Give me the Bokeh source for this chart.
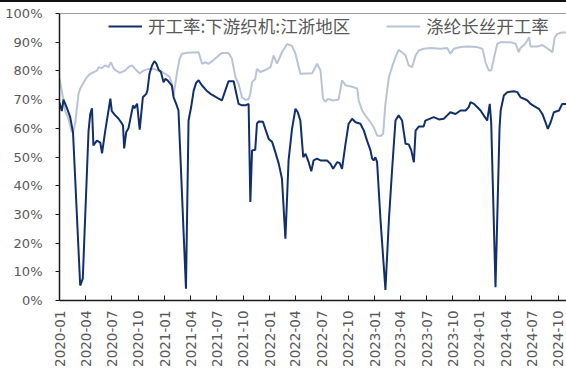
import pandas as pd
from bokeh.plotting import figure
from bokeh.layouts import column
from bokeh.models import (Range1d, Legend, LegendItem, Span, MonthsTicker, Div,
                          DatetimeTickFormatter, FixedTicker, PrintfTickFormatter)
from bokeh.embed import file_html
from bokeh.resources import INLINE

# ---- data ----
weaving_name = "开工率:下游织机:江浙地区"
weaving_dates = [
    "2020-01-01", "2020-01-09", "2020-01-15", "2020-01-27", "2020-02-07", "2020-02-17",
    "2020-03-13", "2020-03-22", "2020-04-11", "2020-04-17", "2020-04-23", "2020-04-28",
    "2020-05-10", "2020-05-22", "2020-05-28", "2020-06-08", "2020-06-26", "2020-07-01",
    "2020-07-13", "2020-07-24", "2020-08-05", "2020-08-09", "2020-08-13", "2020-08-20",
    "2020-08-28", "2020-09-13", "2020-09-18", "2020-09-27", "2020-10-06", "2020-10-17",
    "2020-10-29", "2020-11-02", "2020-11-09", "2020-11-18", "2020-11-26", "2020-12-03",
    "2020-12-11", "2020-12-19", "2020-12-28", "2021-01-03", "2021-01-11", "2021-01-26",
    "2021-02-01", "2021-02-10", "2021-02-18", "2021-03-16", "2021-03-25", "2021-04-03",
    "2021-04-12", "2021-04-21", "2021-04-29", "2021-05-11", "2021-05-26", "2021-06-09",
    "2021-06-20", "2021-07-08", "2021-07-19", "2021-07-31", "2021-08-11", "2021-08-29",
    "2021-09-15", "2021-09-27", "2021-10-09", "2021-10-20", "2021-10-26", "2021-11-01",
    "2021-11-12", "2021-11-18", "2021-11-24", "2021-12-09", "2021-12-17", "2021-12-29",
    "2022-01-10", "2022-01-21", "2022-02-02", "2022-02-13", "2022-02-25", "2022-03-08",
    "2022-03-20", "2022-04-01", "2022-04-09", "2022-04-18", "2022-04-28", "2022-05-06",
    "2022-05-17", "2022-05-26", "2022-06-03", "2022-06-15", "2022-06-27", "2022-07-20",
    "2022-08-01", "2022-08-10", "2022-08-24", "2022-09-02", "2022-09-10", "2022-09-22",
    "2022-10-03", "2022-10-15", "2022-10-27", "2022-11-13", "2022-11-25", "2022-12-06",
    "2022-12-18", "2022-12-24", "2022-12-29", "2023-01-04", "2023-01-10", "2023-01-22",
    "2023-02-08", "2023-02-20", "2023-03-03", "2023-03-15", "2023-03-26", "2023-04-07",
    "2023-04-19", "2023-04-30", "2023-05-09", "2023-05-18", "2023-05-24", "2023-06-04",
    "2023-06-21", "2023-06-27", "2023-07-26", "2023-08-13", "2023-08-30", "2023-09-11",
    "2023-09-22", "2023-10-10", "2023-10-27", "2023-11-14", "2023-11-25", "2023-12-01",
    "2023-12-13", "2023-12-24", "2024-01-05", "2024-01-16", "2024-01-28", "2024-02-06",
    "2024-02-11", "2024-02-26", "2024-03-11", "2024-03-15", "2024-03-26", "2024-04-07",
    "2024-04-30", "2024-05-12", "2024-05-23", "2024-06-04", "2024-06-16", "2024-06-27",
    "2024-07-08", "2024-07-26", "2024-08-07", "2024-08-18", "2024-08-26", "2024-09-05",
    "2024-09-16", "2024-10-04", "2024-10-15", "2024-10-30",
]
weaving_values = [
    69.0, 66.0, 70.0, 67.0, 64.0, 58.6,
    5.2, 7.6, 59.0, 65.0, 67.0, 54.0,
    55.7, 55.0, 51.3, 59.0, 70.3, 66.0,
    64.5, 63.4, 61.7, 61.0, 53.0, 58.6,
    60.0, 68.0, 67.0, 68.6, 59.5, 70.8,
    72.0, 73.2, 79.0, 81.9, 83.4, 82.5,
    80.4, 79.6, 76.0, 77.2, 76.7, 74.9,
    70.8, 68.5, 66.2, 4.1, 62.7, 67.4,
    73.2, 76.0, 76.7, 74.9, 73.2, 72.0,
    71.4, 70.3, 69.7, 73.2, 76.4, 76.4,
    68.5, 68.0, 68.0, 68.5, 34.3, 52.3,
    52.5, 61.6, 62.4, 62.3, 59.8, 56.3,
    55.2, 51.7, 47.6, 42.4, 21.5, 48.8,
    59.8, 66.8, 65.6, 62.7, 49.9, 51.1,
    48.2, 45.0, 48.8, 49.4, 48.8, 48.8,
    47.6, 45.9, 48.2, 47.9, 45.9, 54.5,
    61.6, 63.3, 62.1, 61.6, 59.2, 55.7,
    52.3, 49.4, 48.8, 49.9, 48.2, 27.9,
    3.7, 27.9, 45.3, 62.7, 64.5, 62.7,
    54.6, 54.4, 52.3, 48.2, 59.2, 60.6,
    60.6, 62.7, 63.9, 63.1, 63.3, 64.5,
    65.6, 65.0, 66.2, 66.2, 67.4, 69.1,
    68.5, 67.4, 66.2, 64.5, 62.7, 68.5,
    62.0, 4.6, 60.0, 66.2, 71.4, 72.6,
    72.9, 72.6, 70.8, 70.3, 69.7, 68.5,
    67.8, 66.8, 65.0, 62.1, 59.8, 62.1,
    65.6, 66.2, 68.5, 68.5,
]

filament_name = "涤纶长丝开工率"
filament_dates = [
    "2020-01-01", "2020-01-09", "2020-01-21", "2020-02-01", "2020-02-13", "2020-02-19",
    "2020-02-25", "2020-03-07", "2020-03-13", "2020-03-25", "2020-04-05", "2020-04-17",
    "2020-05-10", "2020-05-16", "2020-05-27", "2020-06-08", "2020-06-19", "2020-06-28",
    "2020-07-08", "2020-07-18", "2020-07-29", "2020-08-16", "2020-08-28", "2020-09-09",
    "2020-09-20", "2020-10-06", "2020-10-19", "2020-11-06", "2020-11-23", "2020-12-23",
    "2021-01-03", "2021-01-18", "2021-01-26", "2021-02-01", "2021-02-13", "2021-02-22",
    "2021-03-02", "2021-03-20", "2021-04-29", "2021-05-11", "2021-05-22", "2021-06-03",
    "2021-06-15", "2021-07-08", "2021-07-19", "2021-08-11", "2021-08-23", "2021-09-04",
    "2021-09-15", "2021-09-27", "2021-10-09", "2021-10-20", "2021-10-26", "2021-11-01",
    "2021-11-12", "2021-11-18", "2021-11-30", "2021-12-17", "2022-01-04", "2022-01-15",
    "2022-01-27", "2022-02-13", "2022-03-03", "2022-03-20", "2022-04-01", "2022-04-18",
    "2022-05-29", "2022-06-15", "2022-06-27", "2022-07-06", "2022-07-14", "2022-07-22",
    "2022-08-12", "2022-08-29", "2022-09-10", "2022-09-22", "2022-10-21", "2022-11-02",
    "2022-11-07", "2022-11-19", "2022-11-30", "2022-12-18", "2022-12-29", "2023-01-10",
    "2023-01-22", "2023-01-31", "2023-02-08", "2023-02-20", "2023-03-03", "2023-03-15",
    "2023-03-26", "2023-04-07", "2023-04-19", "2023-04-30", "2023-05-12", "2023-05-24",
    "2023-06-04", "2023-06-21", "2023-07-15", "2023-08-19", "2023-09-11", "2023-09-22",
    "2023-10-04", "2023-10-27", "2023-11-20", "2023-12-24", "2024-01-11", "2024-01-16",
    "2024-01-22", "2024-02-03", "2024-02-11", "2024-02-20", "2024-03-03", "2024-03-15",
    "2024-04-18", "2024-05-06", "2024-05-17", "2024-05-23", "2024-06-04", "2024-06-16",
    "2024-06-22", "2024-06-27", "2024-07-20", "2024-08-07", "2024-08-24", "2024-09-11",
    "2024-09-19", "2024-09-28", "2024-10-15", "2024-10-30",
]
filament_values = [
    77.2, 73.0, 66.0, 63.4, 58.6, 59.2,
    62.0, 72.0, 73.8, 76.0, 77.8, 79.0,
    80.1, 81.3, 81.0, 81.9, 81.3, 83.0,
    80.7, 80.0, 79.3, 80.1, 81.3, 81.9,
    80.7, 79.1, 80.1, 80.7, 80.7, 79.6,
    79.0, 77.9, 75.5, 71.4, 79.6, 84.2,
    86.0, 86.3, 86.5, 82.5, 83.0, 82.5,
    83.4, 85.4, 86.2, 86.2, 84.2, 77.9,
    75.5, 70.8, 69.9, 70.1, 72.0, 76.1,
    77.2, 80.7, 79.6, 80.3, 81.3, 85.4,
    82.5, 86.5, 89.4, 88.7, 86.0, 79.0,
    79.2, 82.5, 80.2, 70.3, 69.2, 70.2,
    69.7, 70.0, 76.7, 75.0, 74.3, 73.8,
    69.7, 66.2, 64.5, 62.1, 60.4, 57.5,
    57.3, 58.1, 68.5, 77.8, 81.3, 84.8,
    87.3, 86.5, 85.4, 81.9, 81.3, 85.4,
    87.1, 87.7, 88.0, 87.7, 88.0, 86.0,
    87.7, 88.3, 88.5, 88.3, 87.7, 86.0,
    83.0, 80.1, 80.1, 84.2, 89.4, 90.0,
    90.0, 89.5, 86.5, 88.0, 89.0, 90.6,
    91.7, 88.5, 88.5, 89.0, 87.9, 86.5,
    91.7, 92.9, 93.4, 93.4,
]

y_ticks = [0, 10, 20, 30, 40, 50, 60, 70, 80, 90, 100]
x_start, x_end = "2020-01-01", "2024-10-30"

# ---- styling ----
DARK = "#102F6B"
LIGHT = "#B8C4D6"
GRAY = "#595959"
AXIS = "#1a1a1a"

p = figure(width=566, height=367, output_backend="svg", toolbar_location=None,
           x_axis_type="datetime",
           x_range=Range1d(pd.Timestamp(x_start), pd.Timestamp(x_end)),
           y_range=Range1d(0, 100),
           min_border_left=59, min_border_right=0, min_border_top=10, min_border_bottom=70)
p.outline_line_color = None
p.xgrid.visible = False
p.ygrid.visible = False
p.background_fill_color = "white"

r_light = p.line(pd.to_datetime(filament_dates), filament_values, line_color=LIGHT, line_width=2)
r_dark = p.line(pd.to_datetime(weaving_dates), weaving_values, line_color=DARK, line_width=2)

# top border of plot area
p.add_layout(Span(location=100, dimension="width", line_color="#404040", line_width=1))

# y axis
p.yaxis.ticker = FixedTicker(ticks=y_ticks)
p.yaxis.formatter = PrintfTickFormatter(format="%d%%")
p.yaxis.major_tick_out = 4
p.yaxis.major_tick_in = 0
p.yaxis.minor_tick_line_color = None
p.yaxis.axis_line_color = AXIS
p.yaxis.axis_line_width = 1.5
p.yaxis.major_tick_line_color = AXIS
p.yaxis.major_label_text_font = "DejaVu Sans"
p.yaxis.major_label_text_font_size = "13px"
p.yaxis.major_label_text_color = GRAY
p.yaxis.major_label_standoff = 13

# x axis
p.xaxis.ticker = MonthsTicker(months=[0, 3, 6, 9])
p.xaxis.formatter = DatetimeTickFormatter(days="%Y-%m", months="%Y-%m", years="%Y-%m")
p.xaxis.major_label_orientation = 3.14159265 / 2
p.xaxis.major_tick_in = 5
p.xaxis.major_tick_out = 0
p.xaxis.minor_tick_line_color = None
p.xaxis.axis_line_color = AXIS
p.xaxis.axis_line_width = 1.5
p.xaxis.major_tick_line_color = AXIS
p.xaxis.major_label_text_font = "DejaVu Sans"
p.xaxis.major_label_text_font_size = "13.5px"
p.xaxis.major_label_text_color = GRAY
p.xaxis.major_label_standoff = 10

legend = Legend(items=[LegendItem(label=weaving_name, renderers=[r_dark]),
                       LegendItem(label=filament_name, renderers=[r_light])],
                location=(49, 262), orientation="horizontal",
                background_fill_alpha=0, border_line_alpha=0,
                padding=0, margin=0, spacing=36,
                glyph_width=34, glyph_height=22, label_height=22, label_standoff=6,
                label_text_font="Noto Sans CJK SC", label_text_font_size="17.5px",
                label_text_color=GRAY)
p.add_layout(legend)

top_rule = Div(width=566, height=3, styles={"border-top": "2px solid #111", "margin": "0"})
layout = column(top_rule, p, spacing=0)

open("out.html", "w").write(file_html(layout, INLINE))
